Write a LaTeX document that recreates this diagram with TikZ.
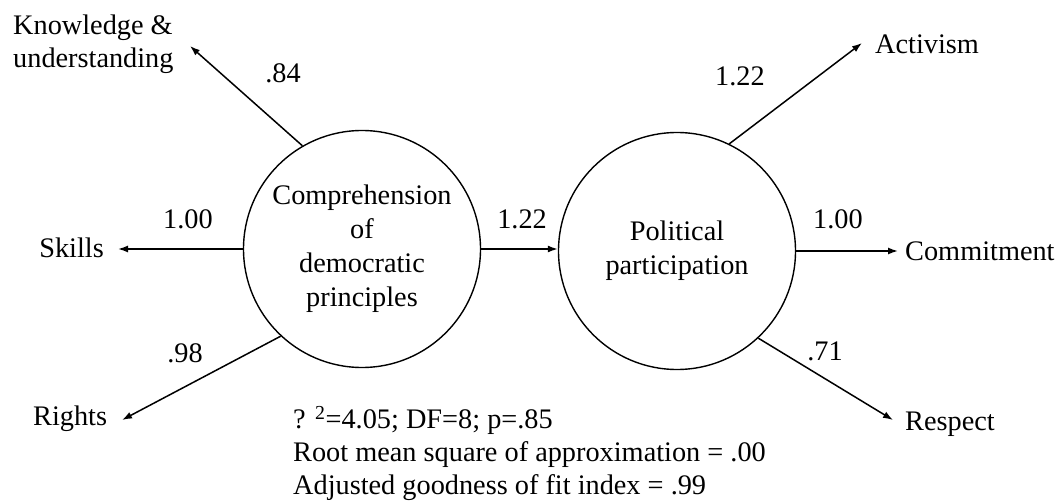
\documentclass[tikz,border=0pt]{standalone}
\usepackage{fontspec}
\setmainfont{Liberation Serif}
\usetikzlibrary{arrows.meta}
\begin{document}
\begin{tikzpicture}[x=1pt,y=-1pt,
  lv/.style={circle,draw,line width=1.4pt,minimum size=237pt,inner sep=0pt,align=center,font=\fontsize{28.3}{34}\selectfont},
  lbl/.style={inner sep=0pt,font=\fontsize{28.3}{33}\selectfont},
  arr/.style={line width=1.5pt,-{Latex[length=10pt,width=7pt]}}]
\useasboundingbox (0,0) rectangle (1059,503);
% latent variables
\node[lv] (C) at (362,249) {Comprehension\\of\\democratic\\principles};
\node[lv] (P) at (677,251) {Political\\participation};
% left indicators
\node[lbl,anchor=north west,align=left] (K) at (13,15) {Knowledge \&\\understanding};
\coordinate (kt) at (190,46);
\draw[arr] (C.120) -- (kt);
\node[lbl,anchor=base] (l84) at (283,82) {.84};
\node[lbl,anchor=base east] (S) at (104,257) {Skills};
\coordinate (st) at (118,249);
\draw[arr] (C.west) -- (st);
\node[lbl,anchor=base] (l100a) at (188,228) {1.00};
\node[lbl,anchor=base west] (R) at (33,425) {Rights};
\coordinate (rt) at (122,420);
\draw[arr] (C.227) -- (rt);
\node[lbl,anchor=base] (l98) at (185,362) {.98};
% structural path
\draw[arr] (C.east) -- (C.east -| P.west);
\node[lbl,anchor=base east] (l122m) at (547,228) {1.22};
% right indicators
\node[lbl,anchor=base west] (A) at (875,53) {Activism};
\coordinate (at) at (862,43);
\draw[arr] (P.64.5) -- (at);
\node[lbl,anchor=base] (l122a) at (740,85) {1.22};
\node[lbl,anchor=base west] (Cm) at (905,260) {Commitment};
\coordinate (ct) at (898,251);
\draw[arr] (P.east) -- (ct);
\node[lbl,anchor=base west] (l100b) at (813,228) {1.00};
\node[lbl,anchor=base west] (Rs) at (905,430) {Respect};
\coordinate (rst) at (893,420);
\draw[arr] (P.-47) -- (rst);
\node[lbl,anchor=base] (l71) at (825,360) {.71};
% fit statistics
\node[lbl,anchor=north west,align=left] (fit) at (293,406) {? \textsuperscript{2}=4.05; DF=8; p=.85\\Root mean square of approximation = .00\\Adjusted goodness of fit index = .99};
\end{tikzpicture}
\end{document}
